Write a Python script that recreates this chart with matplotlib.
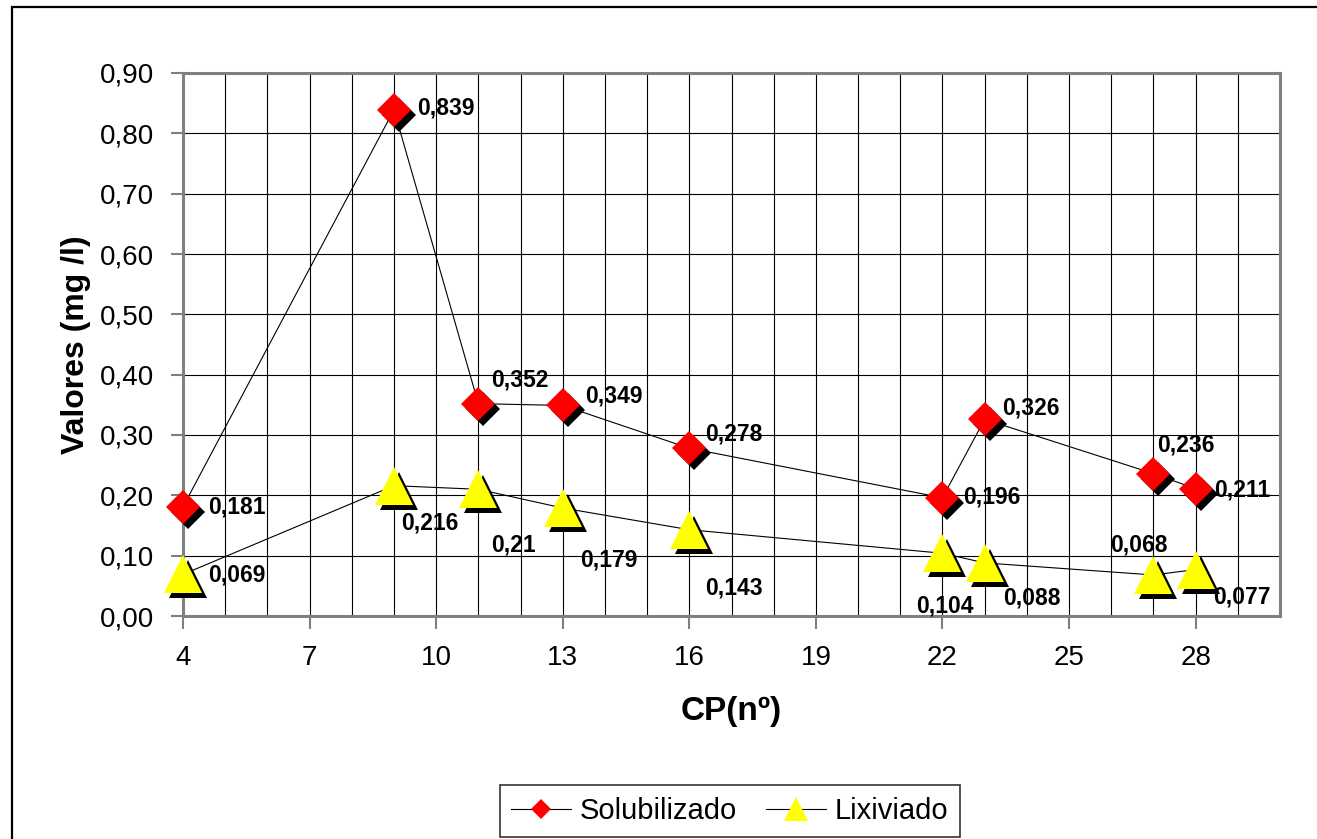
import matplotlib
matplotlib.use("Agg")
import matplotlib.pyplot as plt
from matplotlib.lines import Line2D
from matplotlib.patches import Rectangle
from matplotlib.ticker import FuncFormatter, MultipleLocator
from matplotlib.transforms import offset_copy

plt.rcParams["font.family"] = ["Liberation Sans", "DejaVu Sans"]

# -------------------------------------------------
# Data
# -------------------------------------------------
cp = [4, 9, 11, 13, 16, 22, 23, 27, 28]
solubilizado = [0.181, 0.839, 0.352, 0.349, 0.278, 0.196, 0.326, 0.236, 0.211]
lixiviado = [0.069, 0.216, 0.21, 0.179, 0.143, 0.104, 0.088, 0.068, 0.077]
x_ticks = [4, 7, 10, 13, 16, 19, 22, 25, 28]

# label offsets (pixels) for the data labels
sol_offsets = [(25, 0), (23, 2), (13, 24), (22, 9), (16, 14), (21, 1), (17, 11), (4, 29), (19, -1)]
lix_offsets = [(25, -1), (7, -37), (13, -56), (17, -52), (16, -58), (-26, -53), (18, -35), (-43, 30), (18, -27)]

W, H = 1317, 839
fig = plt.figure(figsize=(W / 100, H / 100), dpi=100)
ax = fig.add_axes([183 / W, 1 - 616 / H, (1280 - 183) / W, (616 - 73) / H])

# outer frame (only left/top visible in the original)
fig.patches.append(Rectangle((12 / W, -0.1), 1.2, 1 - 7 / H + 0.1, transform=fig.transFigure,
                             fill=False, ec="black", lw=1.6))

# lines
ax.plot(cp, solubilizado, color="black", lw=0.8, zorder=3)
ax.plot(cp, lixiviado, color="black", lw=0.8, zorder=3)

# marker shadows + markers
shadow = offset_copy(ax.transData, fig=fig, x=5, y=-5, units="dots")
ax.plot(cp, solubilizado, ls="none", marker="D", ms=17.5, mfc="black", mec="black", mew=0,
        transform=shadow, zorder=4, clip_on=False)
ax.plot(cp, solubilizado, ls="none", marker="D", ms=17.5, mfc="#ff0000", mec="#ff0000", mew=0,
        zorder=5, clip_on=False)
ax.plot(cp, lixiviado, ls="none", marker="^", ms=27, mfc="black", mec="black", mew=0,
        transform=shadow, zorder=4, clip_on=False)
ax.plot(cp, lixiviado, ls="none", marker="^", ms=27, mfc="#ffff00", mec="#ffff00", mew=0,
        zorder=5, clip_on=False)

# data labels
for xv, yv, (dx, dy) in zip(cp, solubilizado, sol_offsets):
    ax.annotate(str(yv).replace(".", ","), (xv, yv), xytext=(dx, dy), textcoords="offset pixels",
                ha="left", va="center", fontsize=16.5, fontweight="bold", zorder=6)
for xv, yv, (dx, dy) in zip(cp, lixiviado, lix_offsets):
    ax.annotate(str(yv).replace(".", ","), (xv, yv), xytext=(dx, dy), textcoords="offset pixels",
                ha="left", va="center", fontsize=16.5, fontweight="bold", zorder=6)

# axes
ax.set_xlim(4, 30)
ax.set_ylim(0, 0.9)
ax.set_xticks(x_ticks)
ax.xaxis.set_minor_locator(MultipleLocator(1))
ax.yaxis.set_major_locator(MultipleLocator(0.1))
ax.yaxis.set_major_formatter(FuncFormatter(lambda v, p: f"{v:.2f}".replace(".", ",")))
ax.grid(True, which="both", color="black", lw=0.8, zorder=1)
ax.tick_params(axis="both", which="major", direction="out", length=9, width=1.5, color="#808080",
               labelsize=20, pad=12)
ax.tick_params(axis="x", which="minor", length=0)
for s in ax.spines.values():
    s.set_color("#808080")
    s.set_linewidth(2.2)

ax.set_xlabel("CP(nº)", fontsize=24, fontweight="bold", labelpad=18)
ax.set_ylabel("Valores (mg /l)", fontsize=23, fontweight="bold", labelpad=6)

# legend
handles = [
    Line2D([], [], color="black", lw=0.8, marker="D", ms=10.5, mfc="#ff0000", mec="#ff0000", mew=0),
    Line2D([], [], color="black", lw=0.8, marker="^", ms=17, mfc="#ffff00", mec="#ffff00", mew=0),
]
leg = fig.legend(handles, ["Solubilizado", "Lixiviado"], loc="center", bbox_to_anchor=(730 / W, 1 - 811 / H),
                 ncol=2, fontsize=21, frameon=True, fancybox=False, edgecolor="black",
                 handlelength=2.05, handletextpad=0.3, columnspacing=1.0, borderpad=0.4,
                 borderaxespad=0)
leg.get_frame().set_linewidth(1.2)

fig.savefig("out.png", dpi=100)
